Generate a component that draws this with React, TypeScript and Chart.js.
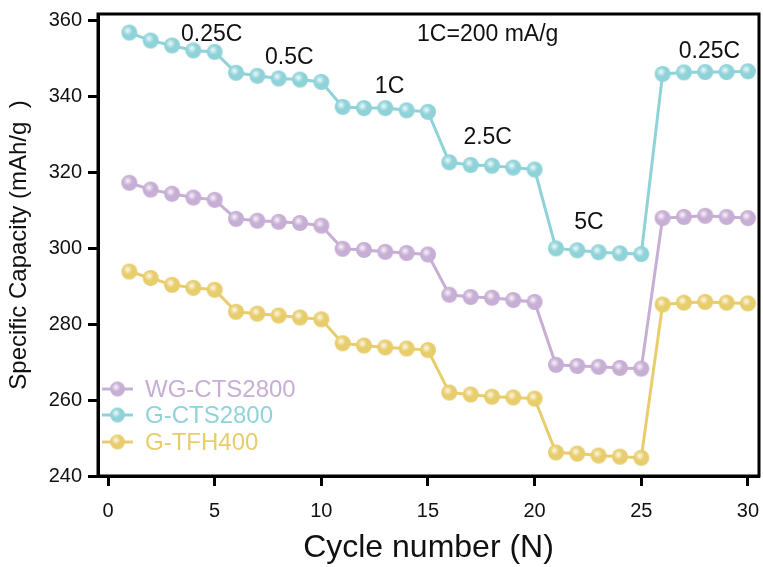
import { useEffect, useRef } from "react";
import { Chart, registerables } from "chart.js";

Chart.register(...registerables);

const cycles = [1, 2, 3, 4, 5, 6, 7, 8, 9, 10, 11, 12, 13, 14, 15, 16, 17, 18, 19, 20, 21, 22, 23, 24, 25, 26, 27, 28, 29, 30];

const wgCts2800 = [
  317.3, 315.5, 314.4, 313.4, 312.8,
  307.8, 307.3, 307.0, 306.7, 306.0,
  299.9, 299.6, 299.1, 298.8, 298.4,
  287.8, 287.2, 287.0, 286.4, 285.9,
  269.3, 269.0, 268.8, 268.5, 268.3,
  308.0, 308.3, 308.6, 308.3, 308.0,
];

const gCts2800 = [
  356.9, 354.8, 353.5, 352.2, 351.8,
  346.3, 345.5, 344.8, 344.5, 343.9,
  337.3, 337.0, 337.0, 336.4, 336.0,
  322.7, 322.0, 321.8, 321.3, 320.8,
  300.0, 299.5, 299.0, 298.7, 298.5,
  346.0, 346.4, 346.5, 346.5, 346.7,
];

const gTfh400 = [
  293.9, 292.2, 290.4, 289.6, 289.1,
  283.3, 282.8, 282.3, 281.8, 281.3,
  275.0, 274.4, 273.9, 273.6, 273.2,
  262.0, 261.5, 260.9, 260.7, 260.4,
  246.2, 245.9, 245.4, 245.1, 244.8,
  285.2, 285.7, 285.9, 285.7, 285.5,
];

const seriesNames = ["WG-CTS2800", "G-CTS2800", "G-TFH400"];
const seriesColors = ["#c7aed4", "#8fd3d9", "#e8cd6c"];

const noteTexts = ["0.25C", "0.5C", "1C", "2.5C", "5C", "0.25C", "1C=200 mA/g"];
const noteX = [4.86, 8.5, 13.2, 17.8, 22.55, 28.2, 17.8];
const noteY = [356.4, 350.3, 342.7, 329.2, 306.8, 352.0, 356.4];

const FONT = "'Liberation Sans', Arial, Helvetica, sans-serif";

function sphere(color: string, r: number): HTMLCanvasElement {
  const c = document.createElement("canvas");
  const size = Math.ceil(r * 2 + 2);
  c.width = size;
  c.height = size;
  const ctx = c.getContext("2d")!;
  const cx = size / 2;
  const cy = size / 2;
  ctx.fillStyle = color;
  ctx.beginPath();
  ctx.arc(cx, cy, r, 0, Math.PI * 2);
  ctx.fill();
  const hx = cx - r * 0.2;
  const hy = cy - r * 0.25;
  const g = ctx.createRadialGradient(hx, hy, 0, hx, hy, r * 0.6);
  g.addColorStop(0, "rgba(255,255,255,0.95)");
  g.addColorStop(0.35, "rgba(255,255,255,0.55)");
  g.addColorStop(1, "rgba(255,255,255,0)");
  ctx.fillStyle = g;
  ctx.beginPath();
  ctx.arc(cx, cy, r, 0, Math.PI * 2);
  ctx.fill();
  return c;
}

export default function App() {
  const ref = useRef<HTMLCanvasElement | null>(null);

  useEffect(() => {
    document.body.style.margin = "0";
    const canvas = ref.current!;
    const spheres = seriesColors.map((c) => sphere(c, 8));
    const legendSpheres = seriesColors.map((c) => sphere(c, 7.5));
    const values = [wgCts2800, gCts2800, gTfh400];

    const framePlugin = {
      id: "frameAndNotes",
      afterDraw(chart: any) {
        const { ctx, chartArea, scales } = chart;
        ctx.save();
        ctx.fillStyle = "#111";
        ctx.font = `23px ${FONT}`;
        ctx.textAlign = "center";
        ctx.textBaseline = "middle";
        noteTexts.forEach((t, i) => {
          ctx.fillText(t, scales.x.getPixelForValue(noteX[i]), scales.y.getPixelForValue(noteY[i]));
        });
        const offs = [87, 61, 34];
        seriesNames.forEach((name, i) => {
          const y = chartArea.bottom - offs[i];
          const x0 = chartArea.left + 4;
          ctx.strokeStyle = seriesColors[i];
          ctx.lineWidth = 3;
          ctx.beginPath();
          ctx.moveTo(x0, y);
          ctx.lineTo(x0 + 31, y);
          ctx.stroke();
          const s = legendSpheres[i];
          ctx.drawImage(s, x0 + 15.5 - s.width / 2, y - s.height / 2);
          ctx.fillStyle = seriesColors[i];
          ctx.font = `24px ${FONT}`;
          ctx.textAlign = "left";
          ctx.textBaseline = "middle";
          ctx.fillText(name, x0 + 43, y + 1);
        });
        ctx.strokeStyle = "#000";
        ctx.lineWidth = 3;
        ctx.strokeRect(chartArea.left, chartArea.top, chartArea.right - chartArea.left, chartArea.bottom - chartArea.top);
        ctx.restore();
      },
    };

    const chart = new Chart(canvas, {
      type: "line",
      data: {
        datasets: seriesNames.map((name, i) => ({
          label: name,
          data: cycles.map((c, j) => ({ x: c, y: values[i][j] })),
          borderColor: seriesColors[i],
          backgroundColor: seriesColors[i],
          borderWidth: 3,
          pointStyle: spheres[i] as any,
          pointRadius: 8,
          tension: 0,
        })),
      },
      options: {
        animation: false,
        responsive: false,
        maintainAspectRatio: false,
        layout: { autoPadding: false, padding: { top: 14, right: 4, left: 0, bottom: 0 } },
        plugins: {
          legend: { display: false },
          tooltip: { enabled: false },
        },
        scales: {
          x: {
            type: "linear",
            min: -0.47,
            max: 30.52,
            afterFit: (s: any) => {
              s.height = 91;
              s.paddingLeft = 0;
              s.paddingRight = 0;
            },
            ticks: {
              stepSize: 5,
              includeBounds: false,
              color: "#111",
              padding: 13,
              font: { family: FONT, size: 20 },
            },
            grid: {
              display: true,
              drawOnChartArea: false,
              drawTicks: true,
              tickLength: 10,
              tickColor: "#000",
              tickWidth: 3,
            },
            border: { display: true, color: "#000", width: 3 },
            title: {
              display: true,
              text: "Cycle number (N)",
              color: "#111",
              font: { family: FONT, size: 32 },
              padding: { top: 0, bottom: 0 },
            },
          },
          y: {
            type: "linear",
            min: 240,
            max: 361.8,
            afterFit: (s: any) => {
              s.width = 98;
              s.paddingTop = 0;
              s.paddingBottom = 0;
            },
            ticks: {
              stepSize: 20,
              includeBounds: false,
              color: "#111",
              padding: 6,
              font: { family: FONT, size: 20 },
            },
            grid: {
              display: true,
              drawOnChartArea: false,
              drawTicks: true,
              tickLength: 10,
              tickColor: "#000",
              tickWidth: 3,
            },
            border: { display: true, color: "#000", width: 3 },
            title: {
              display: true,
              text: "Specific Capacity (mAh/g  )",
              color: "#111",
              font: { family: FONT, size: 24 },
              padding: { top: 5, bottom: 0 },
            },
          },
        },
      },
      plugins: [framePlugin],
    });

    return () => chart.destroy();
  }, []);

  return (
    <div style={{ width: 763, height: 567 }}>
      <canvas ref={ref} width={763} height={567} style={{ display: "block", width: 763, height: 567 }} />
    </div>
  );
}
